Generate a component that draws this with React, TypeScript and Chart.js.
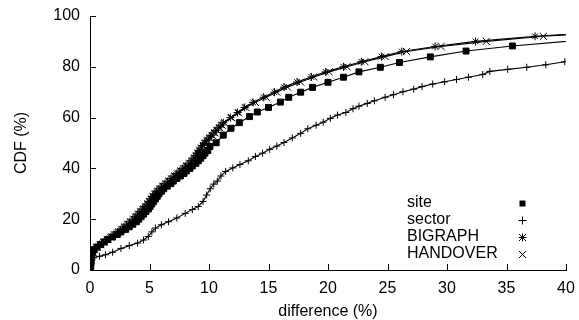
import React, { useEffect, useRef } from "react";
import { Chart, registerables } from "chart.js";

Chart.register(...registerables);

// ---- data (difference %, CDF %) ----
const siteX = [0, 0.02, 0.04, 0.06, 0.08, 0.1, 0.15, 0.22, 0.35, 0.6, 0.9, 1.2, 1.5, 1.9, 2.3, 2.6, 3.0, 3.3, 3.6, 3.9, 4.1, 4.3, 4.5, 4.7, 4.9, 5.05, 5.2, 5.35, 5.5, 5.65, 5.8, 6.0, 6.2, 6.5, 6.8, 7.0, 7.3, 7.6, 7.9, 8.1, 8.4, 8.6, 8.9, 9.1, 9.3, 9.5, 9.66, 9.9, 10.08, 10.6, 11.2, 11.85, 12.55, 13.4, 14.06, 15.0, 16.0, 16.7, 17.7, 18.7, 20.0, 21.3, 22.6, 24.4, 26.0, 28.6, 31.6, 35.5, 42];
const siteY = [0, 1, 2, 3, 4, 5, 6, 7, 8, 9, 10, 11, 12, 13, 14, 15, 16, 17, 18, 19, 20, 21, 22, 23, 24, 25, 26, 27, 28, 29, 30, 31, 32, 33, 34, 35, 36, 37, 38, 39, 40, 41, 42, 43, 44, 45, 46, 47, 48.6, 50.1, 53.1, 55.8, 58.0, 60.4, 62.2, 64.0, 66.1, 68.0, 70.0, 71.9, 73.9, 75.9, 78.0, 79.8, 81.7, 83.9, 86.2, 88.2, 90.8];

const sectorX = [0, 0.05, 0.1, 0.15, 0.3, 0.8, 1.3, 1.9, 2.6, 3.3, 4.0, 4.5, 4.9, 5.2, 5.5, 6.0, 6.6, 7.3, 8.0, 8.6, 9.1, 9.5, 9.8, 10.1, 10.4, 10.7, 11.0, 11.4, 12.0, 12.6, 13.3, 13.9, 14.5, 15.1, 15.7, 16.3, 17.0, 17.7, 18.3, 19.0, 19.6, 20.2, 20.8, 21.5, 22.1, 22.6, 23.3, 23.9, 24.8, 25.5, 26.3, 27.2, 27.9, 28.8, 29.8, 30.8, 31.8, 33.0, 33.6, 35.1, 36.7, 38.3, 39.9];
const sectorY = [0, 1, 2.5, 4, 4.8, 5.4, 6, 7, 8.5, 9.6, 10.6, 11.8, 13.2, 15, 16.5, 17.8, 19, 20.5, 22.3, 23.8, 25, 27, 29.5, 32, 33.8, 35, 37, 38.8, 40.2, 41.5, 43, 44.7, 46, 47.5, 48.8, 50.2, 52, 53.8, 55.6, 57, 58.2, 59.7, 61, 62, 63.5, 64.5, 65.6, 66.6, 68, 69, 70.2, 71.2, 72.2, 73.2, 74.1, 75, 75.9, 77, 78.2, 79, 79.8, 80.8, 82];

const bigraphX = [0, 0.02, 0.04, 0.06, 0.08, 0.1, 0.14, 0.2, 0.3, 0.5, 0.8, 1.1, 1.4, 1.7, 2.0, 2.3, 2.6, 2.85, 3.1, 3.35, 3.6, 3.8, 4.0, 4.2, 4.4, 4.6, 4.8, 4.95, 5.1, 5.25, 5.4, 5.6, 5.8, 6.05, 6.3, 6.55, 6.8, 7.05, 7.3, 7.55, 7.8, 8.05, 8.3, 8.5, 8.7, 8.85, 9.0, 9.15, 9.3, 9.45, 9.6, 9.8, 10.0, 10.2, 10.4, 10.6, 10.8, 11.0, 11.2, 11.8, 12.4, 13.0, 13.7, 14.6, 15.5, 16.3, 17.4, 18.6, 19.8, 21.3, 22.8, 24.5, 26.2, 29.0, 32.4, 37.4, 42];
const bigraphY = [0, 1, 2, 3, 4, 5, 6, 7, 8, 9, 10, 11, 12, 13, 14, 15, 16, 17, 18, 19, 20, 21, 22, 23, 24, 25, 26, 27, 28, 29, 30, 31, 32, 33, 34, 35, 36, 37, 38, 39, 40, 41, 42, 43, 44, 45, 46, 47, 48, 49, 50, 51, 52, 53, 54, 55, 56, 57, 58, 60, 62, 64, 66, 68, 70, 72, 74, 76, 78, 80, 82, 84, 86, 88, 90, 92, 93.4];

const handoverX = [0, 0.03, 0.05, 0.07, 0.09, 0.12, 0.16, 0.24, 0.35, 0.6, 0.9, 1.2, 1.5, 1.8, 2.1, 2.4, 2.7, 2.95, 3.2, 3.45, 3.7, 3.9, 4.1, 4.3, 4.5, 4.7, 4.85, 5.0, 5.15, 5.3, 5.5, 5.7, 5.9, 6.15, 6.4, 6.65, 6.9, 7.15, 7.4, 7.65, 7.9, 8.15, 8.4, 8.6, 8.8, 8.95, 9.1, 9.25, 9.4, 9.55, 9.7, 9.9, 10.1, 10.3, 10.5, 10.7, 10.9, 11.1, 11.3, 11.9, 12.5, 13.1, 13.9, 14.8, 15.7, 16.6, 17.7, 18.8, 20.1, 21.6, 23.1, 24.8, 26.6, 29.5, 33.3, 38.1, 42];
const handoverY = [0, 1, 2, 3, 4, 5, 6, 7, 8, 9, 10, 11, 12, 13, 14, 15, 16, 17, 18, 19, 20, 21, 22, 23, 24, 25, 26, 27, 28, 29, 30, 31, 32, 33, 34, 35, 36, 37, 38, 39, 40, 41, 42, 43, 44, 45, 46, 47, 48, 49, 50, 51, 52, 53, 54, 55, 56, 57, 58, 60, 62, 64, 66, 68, 70, 72, 74, 76, 78, 80, 82, 84, 86, 88, 90, 92, 93.1];

const xTicks = [0, 5, 10, 15, 20, 25, 30, 35, 40];
const yTicks = [0, 20, 40, 60, 80, 100];
const legendLabels = ["site", "sector", "BIGRAPH", "HANDOVER"];

const FONT = '"Liberation Sans", Arial, Helvetica, sans-serif';

function pts(xs: number[], ys: number[]) {
  return xs.map((x, i) => ({ x, y: ys[i] }));
}

function drawMarker(ctx: CanvasRenderingContext2D, kind: string, x: number, y: number) {
  ctx.beginPath();
  if (kind === "rect") {
    ctx.fillRect(x - 3, y - 3, 6, 6);
    return;
  }
  if (kind === "cross" || kind === "star") {
    ctx.moveTo(x - 4, y);
    ctx.lineTo(x + 4, y);
    ctx.moveTo(x, y - 4);
    ctx.lineTo(x, y + 4);
  }
  if (kind === "crossRot" || kind === "star") {
    ctx.moveTo(x - 3.5, y - 3.5);
    ctx.lineTo(x + 3.5, y + 3.5);
    ctx.moveTo(x - 3.5, y + 3.5);
    ctx.lineTo(x + 3.5, y - 3.5);
  }
  ctx.stroke();
}

const markerKinds = ["rect", "cross", "star", "crossRot"];

const decorPlugin = {
  id: "decor",
  afterDraw(chart: any) {
    const { ctx, chartArea, scales } = chart;
    ctx.save();
    ctx.strokeStyle = "#000";
    ctx.fillStyle = "#000";
    ctx.lineWidth = 1;
    ctx.beginPath();
    for (const v of xTicks) {
      const px = Math.round(scales.x.getPixelForValue(v)) + 0.5;
      ctx.moveTo(px, chartArea.bottom);
      ctx.lineTo(px, chartArea.bottom - 6);
    }
    for (const v of yTicks) {
      const py = Math.round(scales.y.getPixelForValue(v)) + 0.5;
      ctx.moveTo(chartArea.left, py);
      ctx.lineTo(chartArea.left + 6, py);
    }
    ctx.stroke();
    ctx.font = "16px " + FONT;
    ctx.textBaseline = "middle";
    ctx.textAlign = "left";
    legendLabels.forEach((label, i) => {
      const y = 203 + i * 17;
      ctx.fillText(label, 407, y);
      drawMarker(ctx, markerKinds[i], 522.5, y + 0.5);
    });
    ctx.restore();
  },
};

export default function App() {
  const ref = useRef<HTMLCanvasElement | null>(null);
  useEffect(() => {
    if (!ref.current) return;
    const common = {
      borderColor: "#000",
      backgroundColor: "#000",
      borderWidth: 1.1,
      pointBorderColor: "#000",
      pointBackgroundColor: "#000",
      pointBorderWidth: 1,
      showLine: true,
      tension: 0,
      fill: false,
    };
    const chart = new Chart(ref.current, {
      type: "scatter",
      data: {
        datasets: [
          { ...common, label: "site", data: pts(siteX, siteY), pointStyle: "rect", pointRadius: 4.2 },
          { ...common, label: "sector", data: pts(sectorX, sectorY), pointStyle: "cross", pointRadius: 3.5 },
          { ...common, label: "BIGRAPH", data: pts(bigraphX, bigraphY), pointStyle: "star", pointRadius: 4 },
          { ...common, label: "HANDOVER", data: pts(handoverX, handoverY), pointStyle: "crossRot", pointRadius: 5 },
        ],
      },
      options: {
        animation: false,
        responsive: false,
        devicePixelRatio: 1,
        layout: { padding: { top: 16, right: 13, left: 0, bottom: 0 } },
        plugins: { legend: { display: false }, tooltip: { enabled: false } },
        scales: {
          x: {
            type: "linear",
            min: 0,
            max: 40,
            afterFit: (s: any) => {
              s.height = 50;
              s.paddingLeft = 0;
              s.paddingRight = 0;
            },
            afterBuildTicks: (s: any) => {
              s.ticks = xTicks.map((v) => ({ value: v }));
            },
            grid: { display: false, drawTicks: false },
            border: { display: true, color: "#000", width: 1 },
            ticks: { color: "#000", font: { family: FONT, size: 16 }, padding: 9, maxRotation: 0 },
            title: {
              display: true,
              text: "difference (%)",
              color: "#000",
              font: { family: FONT, size: 16, lineHeight: 1 },
              padding: { top: 0, bottom: 0 },
            },
          },
          y: {
            type: "linear",
            min: 0,
            max: 100,
            afterFit: (s: any) => {
              s.width = 90;
              s.paddingTop = 0;
              s.paddingBottom = 0;
            },
            afterBuildTicks: (s: any) => {
              s.ticks = yTicks.map((v) => ({ value: v }));
            },
            grid: { display: false, drawTicks: false },
            border: { display: true, color: "#000", width: 1 },
            ticks: { color: "#000", font: { family: FONT, size: 16 }, padding: 10 },
            title: {
              display: true,
              text: "CDF (%)",
              color: "#000",
              font: { family: FONT, size: 16, lineHeight: 1.2 },
              padding: { top: 12, bottom: 0 },
            },
          },
        },
      },
      plugins: [decorPlugin],
    } as any);
    return () => chart.destroy();
  }, []);
  return (
    <div style={{ position: "absolute", left: 0, top: 0, width: 579, height: 320, background: "#fff" }}>
      <canvas ref={ref} width={579} height={320} style={{ display: "block" }} />
    </div>
  );
}
